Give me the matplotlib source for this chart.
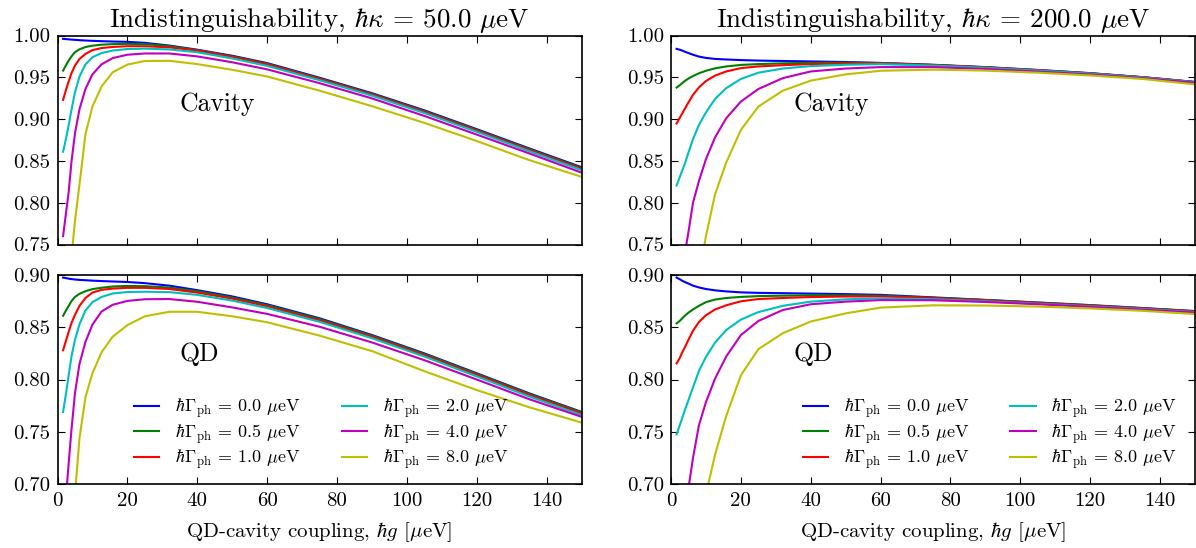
"""Indistinguishability vs QD-cavity coupling for two cavity linewidths."""
import matplotlib
matplotlib.use("Agg")
import matplotlib.pyplot as plt
from matplotlib.ticker import FormatStrFormatter

# coupling hbar*g [ueV]
g = [1.6, 2.5, 3.2, 4, 5, 6.3, 8, 10, 12.6, 15.8, 20, 25, 32, 40, 50, 60, 75, 90, 105, 120, 135, 150]

gamma_ph = [0.0, 0.5, 1.0, 2.0, 4.0, 8.0]
kappas = [50.0, 200.0]

# kappa = 50 ueV, cavity photons
cav_k50 = [
    [0.9960, 0.9957, 0.9954, 0.9951, 0.9948, 0.9944, 0.9940, 0.9936, 0.9932, 0.9928, 0.9924, 0.9912, 0.9880, 0.9830, 0.9758, 0.9670, 0.9495, 0.9310, 0.9105, 0.8880, 0.8650, 0.8425],
    [0.9580, 0.9650, 0.9700, 0.9750, 0.9800, 0.9835, 0.9862, 0.9878, 0.9890, 0.9897, 0.9900, 0.9897, 0.9873, 0.9825, 0.9751, 0.9662, 0.9487, 0.9302, 0.9096, 0.8871, 0.8641, 0.8415],
    [0.9230, 0.9360, 0.9450, 0.9550, 0.9640, 0.9720, 0.9780, 0.9825, 0.9850, 0.9863, 0.9872, 0.9872, 0.9858, 0.9820, 0.9745, 0.9655, 0.9480, 0.9295, 0.9088, 0.8863, 0.8632, 0.8405],
    [0.8610, 0.8780, 0.8930, 0.9110, 0.9320, 0.9510, 0.9655, 0.9740, 0.9790, 0.9820, 0.9838, 0.9843, 0.9833, 0.9800, 0.9726, 0.9637, 0.9465, 0.9281, 0.9073, 0.8848, 0.8617, 0.8390],
    [0.7600, 0.7900, 0.8130, 0.8490, 0.8830, 0.9120, 0.9360, 0.9535, 0.9655, 0.9730, 0.9770, 0.9785, 0.9785, 0.9750, 0.9680, 0.9595, 0.9430, 0.9248, 0.9038, 0.8815, 0.8590, 0.8360],
    [0.5200, 0.6000, 0.6600, 0.7350, 0.7780, 0.8220, 0.8820, 0.9150, 0.9390, 0.9560, 0.9652, 0.9695, 0.9697, 0.9658, 0.9590, 0.9510, 0.9340, 0.9155, 0.8955, 0.8738, 0.8510, 0.8310],
]

# kappa = 50 ueV, QD photons
qd_k50 = [
    [0.8975, 0.8970, 0.8965, 0.8961, 0.8957, 0.8953, 0.8950, 0.8946, 0.8942, 0.8938, 0.8933, 0.8922, 0.8898, 0.8855, 0.8795, 0.8720, 0.8586, 0.8426, 0.8250, 0.8060, 0.7868, 0.7690],
    [0.8610, 0.8665, 0.8705, 0.8750, 0.8790, 0.8820, 0.8845, 0.8865, 0.8878, 0.8890, 0.8895, 0.8893, 0.8880, 0.8845, 0.8785, 0.8711, 0.8578, 0.8419, 0.8243, 0.8054, 0.7862, 0.7685],
    [0.8280, 0.8380, 0.8457, 0.8540, 0.8620, 0.8705, 0.8780, 0.8832, 0.8858, 0.8870, 0.8877, 0.8877, 0.8866, 0.8832, 0.8774, 0.8700, 0.8567, 0.8409, 0.8233, 0.8044, 0.7853, 0.7675],
    [0.7690, 0.7880, 0.8042, 0.8220, 0.8380, 0.8530, 0.8660, 0.8740, 0.8790, 0.8823, 0.8837, 0.8840, 0.8836, 0.8810, 0.8755, 0.8684, 0.8552, 0.8395, 0.8220, 0.8030, 0.7838, 0.7660],
    [0.6550, 0.6900, 0.7200, 0.7520, 0.7870, 0.8150, 0.8360, 0.8525, 0.8650, 0.8715, 0.8752, 0.8768, 0.8770, 0.8744, 0.8690, 0.8628, 0.8505, 0.8355, 0.8185, 0.8000, 0.7812, 0.7643],
    [0.4500, 0.5200, 0.5800, 0.6400, 0.6900, 0.7440, 0.7830, 0.8060, 0.8260, 0.8410, 0.8520, 0.8605, 0.8648, 0.8648, 0.8605, 0.8548, 0.8420, 0.8272, 0.8080, 0.7899, 0.7735, 0.7588],
]

# kappa = 200 ueV, cavity photons
cav_k200 = [
    [0.9840, 0.9830, 0.9820, 0.9805, 0.9790, 0.9770, 0.9748, 0.9732, 0.9720, 0.9713, 0.9706, 0.9700, 0.9695, 0.9690, 0.9683, 0.9672, 0.9650, 0.9622, 0.9588, 0.9550, 0.9502, 0.9445],
    [0.9378, 0.9405, 0.9430, 0.9458, 0.9485, 0.9515, 0.9548, 0.9578, 0.9607, 0.9630, 0.9648, 0.9658, 0.9667, 0.9673, 0.9675, 0.9670, 0.9648, 0.9620, 0.9586, 0.9548, 0.9501, 0.9443],
    [0.8947, 0.9015, 0.9067, 0.9127, 0.9200, 0.9290, 0.9380, 0.9455, 0.9520, 0.9570, 0.9610, 0.9630, 0.9645, 0.9658, 0.9665, 0.9667, 0.9646, 0.9618, 0.9584, 0.9546, 0.9500, 0.9442],
    [0.8206, 0.8306, 0.8384, 0.8470, 0.8600, 0.8760, 0.8930, 0.9080, 0.9240, 0.9370, 0.9480, 0.9555, 0.9605, 0.9634, 0.9650, 0.9657, 0.9640, 0.9613, 0.9580, 0.9543, 0.9497, 0.9440],
    [0.6600, 0.6850, 0.7050, 0.7400, 0.7650, 0.8000, 0.8260, 0.8520, 0.8780, 0.9010, 0.9210, 0.9360, 0.9490, 0.9570, 0.9605, 0.9622, 0.9622, 0.9600, 0.9568, 0.9533, 0.9490, 0.9433],
    [0.4200, 0.4800, 0.5200, 0.5600, 0.6100, 0.6600, 0.7100, 0.7600, 0.8100, 0.8480, 0.8870, 0.9150, 0.9340, 0.9460, 0.9535, 0.9578, 0.9592, 0.9580, 0.9555, 0.9522, 0.9480, 0.9415],
]

# kappa = 200 ueV, QD photons
qd_k200 = [
    [0.8975, 0.8960, 0.8945, 0.8932, 0.8918, 0.8898, 0.8881, 0.8866, 0.8853, 0.8843, 0.8834, 0.8829, 0.8826, 0.8822, 0.8817, 0.8810, 0.8786, 0.8762, 0.8737, 0.8712, 0.8684, 0.8655],
    [0.8537, 0.8560, 0.8585, 0.8612, 0.8640, 0.8670, 0.8705, 0.8740, 0.8765, 0.8780, 0.8790, 0.8798, 0.8802, 0.8805, 0.8805, 0.8802, 0.8782, 0.8760, 0.8735, 0.8710, 0.8682, 0.8653],
    [0.8154, 0.8205, 0.8260, 0.8310, 0.8380, 0.8467, 0.8550, 0.8615, 0.8670, 0.8710, 0.8748, 0.8770, 0.8780, 0.8789, 0.8794, 0.8795, 0.8778, 0.8756, 0.8732, 0.8707, 0.8680, 0.8651],
    [0.7474, 0.7562, 0.7630, 0.7710, 0.7803, 0.7925, 0.8082, 0.8216, 0.8353, 0.8473, 0.8573, 0.8645, 0.8705, 0.8745, 0.8767, 0.8777, 0.8768, 0.8748, 0.8725, 0.8700, 0.8674, 0.8645],
    [0.6000, 0.6250, 0.6500, 0.6720, 0.6960, 0.7250, 0.7563, 0.7783, 0.8008, 0.8220, 0.8425, 0.8560, 0.8665, 0.8720, 0.8745, 0.8760, 0.8758, 0.8742, 0.8720, 0.8695, 0.8668, 0.8640],
    [0.4000, 0.4500, 0.4900, 0.5300, 0.5700, 0.6100, 0.6500, 0.6900, 0.7280, 0.7650, 0.8040, 0.8290, 0.8443, 0.8555, 0.8633, 0.8688, 0.8710, 0.8708, 0.8698, 0.8680, 0.8657, 0.8626],
]

colors = ["#0000ff", "#008000", "#ff0000", "#00bfbf", "#bf00bf", "#bfbf00"]

plt.rcParams.update({
    "font.family": "cmr10",
    "mathtext.fontset": "cm",
    "axes.formatter.use_mathtext": True,
    "axes.linewidth": 1.2,
    "xtick.direction": "in",
    "ytick.direction": "in",
    "xtick.top": True,
    "ytick.right": True,
    "xtick.major.size": 5,
    "ytick.major.size": 5,
    "xtick.major.pad": 6,
    "ytick.major.pad": 5,
    "xtick.labelsize": 15,
    "ytick.labelsize": 15,
})

W, H = 1196, 548


def rect(left, top, width=524, height=209):
    return [left / W, 1 - (top + height) / H, width / W, height / H]


def draw(ax, series, ylim, yticks, tag, tag_y):
    for vals, c, gp in zip(series, colors, gamma_ph):
        ax.plot(g, vals, color=c, lw=1.5,
                label=r"$\hbar\Gamma_{\rm ph}$ = %.1f $\mu$eV" % gp)
    ax.set_xlim(0, 150)
    ax.set_ylim(*ylim)
    ax.set_xticks(range(0, 150, 20))
    ax.set_yticks(yticks)
    ax.yaxis.set_major_formatter(FormatStrFormatter("%.2f"))
    ax.xaxis.set_major_formatter(FormatStrFormatter("%d"))
    ax.text(35, tag_y, tag, fontsize=18.5)


def main():
    fig = plt.figure(figsize=(W / 100, H / 100), dpi=100)
    ax_tl = fig.add_axes(rect(57.5, 35.5))
    ax_tr = fig.add_axes(rect(671, 35.5))
    ax_bl = fig.add_axes(rect(57.5, 275))
    ax_br = fig.add_axes(rect(671, 275))

    top_ticks = [0.75, 0.80, 0.85, 0.90, 0.95, 1.00]
    bot_ticks = [0.70, 0.75, 0.80, 0.85, 0.90]

    draw(ax_tl, cav_k50, (0.75, 1.0), top_ticks, "Cavity", 0.91)
    draw(ax_tr, cav_k200, (0.75, 1.0), top_ticks, "Cavity", 0.91)
    draw(ax_bl, qd_k50, (0.70, 0.90), bot_ticks, "QD", 0.818)
    draw(ax_br, qd_k200, (0.70, 0.90), bot_ticks, "QD", 0.818)

    for ax, k in zip([ax_tl, ax_tr], kappas):
        ax.set_title(r"Indistinguishability, $\hbar\kappa$ = %.1f $\mu$eV" % k,
                     fontsize=19.5, pad=6)
        ax.tick_params(labelbottom=False)

    for ax, x0 in zip([ax_bl, ax_br], [0.146, 0.251]):
        ax.set_xlabel(r"QD-cavity coupling, $\hbar g$ [$\mu$eV]", fontsize=15,
                      labelpad=7)
        ax.legend(ncol=2, loc="lower left", bbox_to_anchor=(x0, 0.06),
                  frameon=False, fontsize=13, handlelength=1.4,
                  handletextpad=0.87, columnspacing=2.3, labelspacing=0.1,
                  borderpad=0, borderaxespad=0)

    fig.savefig("out.png", dpi=100)
    plt.close(fig)


if __name__ == "__main__":
    main()
